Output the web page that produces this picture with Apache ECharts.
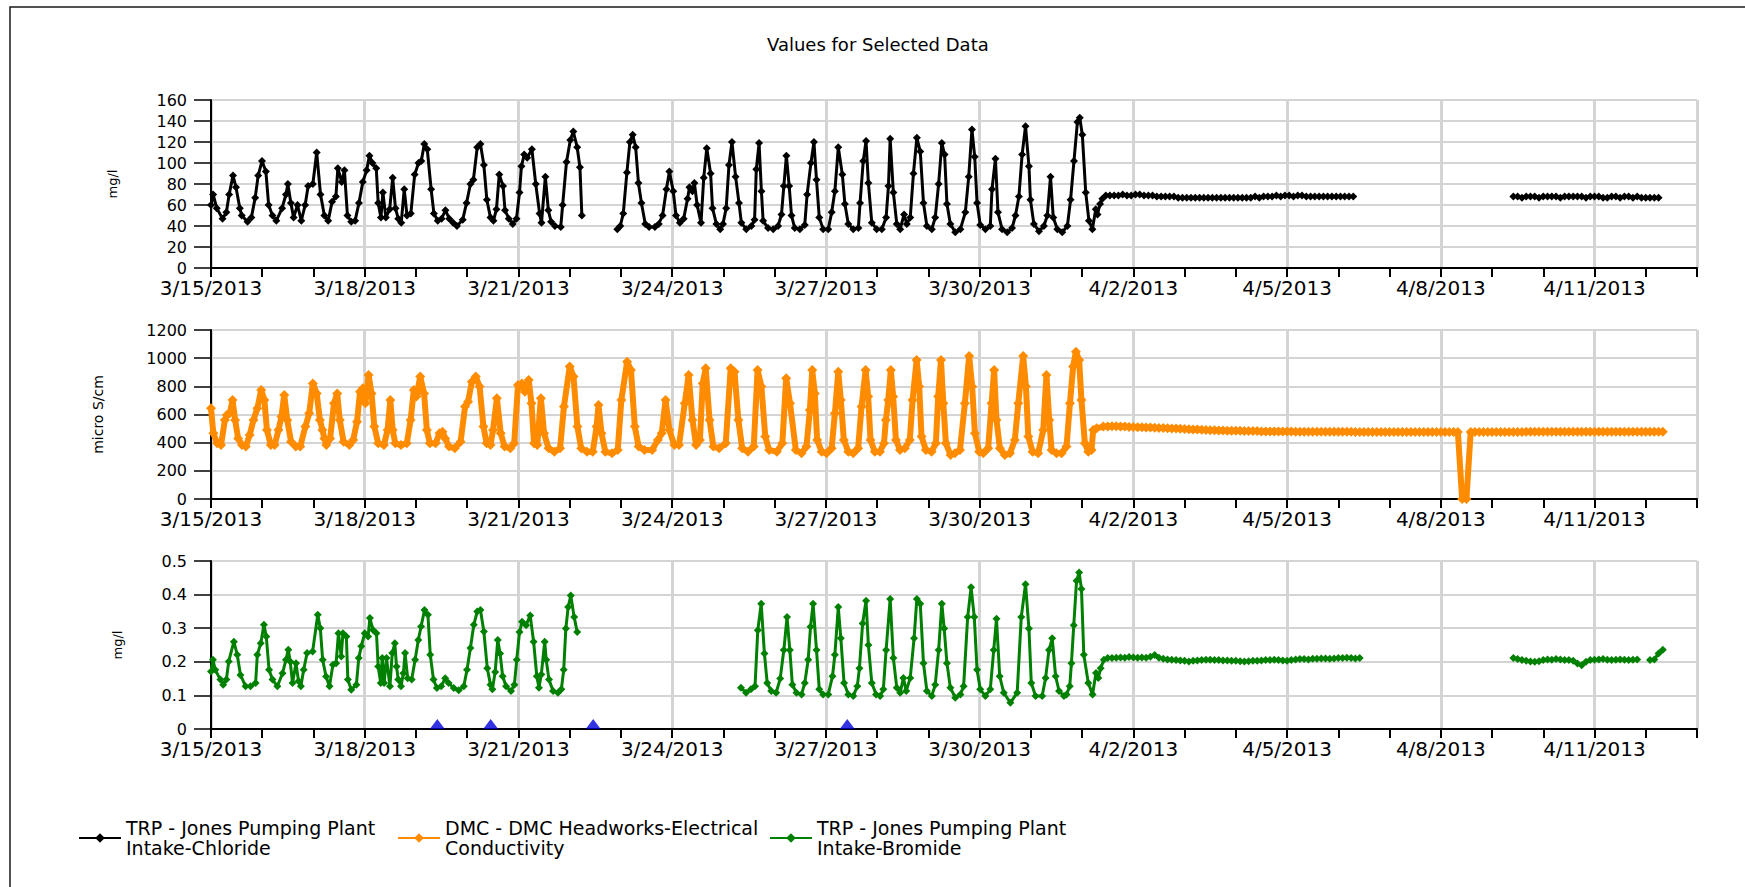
<!DOCTYPE html>
<html>
<head>
<meta charset="utf-8">
<title>Values for Selected Data</title>
<script src="https://cdn.jsdelivr.net/npm/echarts/dist/echarts.min.js"></script>
<style>
  html, body { margin: 0; padding: 0; background: #fff; }
  #chart { width: 1745px; height: 887px; }
</style>
</head>
<body>
<div id="chart"></div>
<script>
// x values are hours after 3/15/2013 00:00, null = no data (gap in the line)
const seriesNames = [
  "TRP - Jones Pumping Plant\nIntake-Chloride",
  "DMC - DMC Headworks-Electrical\nConductivity",
  "TRP - Jones Pumping Plant\nIntake-Bromide"
];

// chloride, mg/l
const chlorideHours = [
  0,1,2.7,5.4,7.2,8.5,10.3,11.7,13.5,14.4,17.1,18.9,20.7,22.1,23.9,25.7,27,28.8,30.6,33.3,
  35.1,36,37.4,38.7,40.5,42.3,44.1,45.5,47.7,49.5,51.3,53.1,54.9,56.7,58.5,59.4,61.2,62.5,63.9,65.7,
  67.5,69.3,71.1,72.9,74.2,75.6,77.4,78.3,79.6,80.5,81.9,83.7,85.1,86.4,87.7,89.1,90.5,91.8,93.6,95.4,
  97.2,98.5,99.9,101.3,103.1,104.4,106.2,108,109.8,111.6,113.4,115.2,117.9,119.7,121.5,122.9,124.7,126.2,127.8,129.2,
  130.9,132.3,133.7,135,136.8,137.7,139.5,141.3,143.1,144.5,145.4,146.7,148.1,150.3,152.1,153.9,154.8,156.6,158,159.3,
  161.1,163.8,164.7,166.5,168.3,169.7,171.5,172.8,173.7,
  182,
  190.3,191.7,193.1,194.8,196.2,197.5,198.9,200.2,201.6,203.4,205.2,207.9,209.7,211.5,213.3,214.7,216.5,217.8,219.6,221.4,
  223.2,224.1,225.5,226.4,227.7,229.5,230.8,232.2,234,234.9,236.7,238.5,
  239.8,241.3,242.6,244,245.7,247.3,248.4,250.7,253.1,254.6,255.4,256.7,257.8,258.6,260.9,263.3,265.6,267.2,268.3,269.5,
  270.8,271.9,273.4,275.8,278.1,279.2,281,282.4,283.6,284.9,286.7,289.1,290.7,292.2,293.8,295.7,296.9,298.5,300.8,303.2,
  304,305.5,306.8,307.9,309.5,311.8,314.2,316.2,317.3,318.1,319.6,321.2,322.8,324.6,325.9,327.5,329,330.6,332.2,333.7,
  335.3,337.6,339.2,340.8,342.3,343.6,344.7,346.3,348.6,351,353.3,354.9,356.4,357.7,358.8,360.3,362.7,365,365.8,367.4,
  368.6,370.5,372.9,375.2,376.8,378.4,379.9,381.5,383.1,383.8,385.4,387.8,390.1,391.7,393.2,394.5,396.4,398.7,401.1,402.6,
  404.2,405.8,406.9,408.1,409.7,411.2,412.8,414.4,415.2,416.4,417.5,419.1
];
const chlorideValues = [
  60,70,57,47,53,70,88,77,57,50,44,48,67,88,102,92,60,50,45,57,
  70,80,62,48,60,45,60,78,80,110,70,50,45,63,68,95,82,93,50,44,
  45,62,82,93,107,100,95,62,48,72,48,56,86,57,47,43,75,50,52,89,
  100,102,118,113,75,52,45,47,55,47,43,40,46,62,80,84,115,118,98,65,
  48,45,56,89,78,55,47,42,47,72,97,108,105,113,80,52,43,87,55,44,
  40,39,60,101,122,130,115,96,50,
  null,
  37,40,52,91,120,127,115,81,62,42,39,39,42,50,75,92,73,50,43,47,
  66,77,73,81,60,43,86,114,90,57,42,37,
  42,57,98,120,87,62,43,37,40,46,94,119,73,45,38,37,40,51,78,107,
  78,50,38,37,41,70,100,120,84,48,37,37,53,73,115,89,61,42,37,38,
  62,102,121,81,43,37,37,48,78,123,72,42,37,51,42,48,90,124,111,62,
  40,37,48,80,119,108,61,42,34,37,53,87,132,106,62,41,37,40,75,104,
  53,37,34,38,50,68,108,135,97,65,42,35,40,50,87,48,37,34,40,65,
  102,139,143,127,72,45,37,56,51,61,66,69
];
// steady readings every 2 hours
const chlorideSteady1 = [
  69,69,69,70,69,69,70,70,69,69,69,68,68,68,68,68,67,67,67,67,
  67,67,67,67,67,67,67,67,67,67,67,67,67,67,68,67,68,68,68,69,
  68,69,69,68,69,69,68,68,68,68,68,68,68,68,68,68,68,68
];
const chlorideSteady2 = [
  68,68,67,68,68,68,67,68,68,68,68,67,68,68,68,68,68,67,68,68,
  68,67,67,68,68,67,68,68,67,68,67,67,67,67,67
];

// electrical conductivity, micro S/cm
const ecHours = [
  0,1.1,2.9,4.7,6.5,7.4,8.8,10.1,11.3,12.7,14.5,16.3,18.1,19.9,21.7,23.5,25,26.2,28,29.8,
  31.6,33,34.3,35.7,37.5,39.7,41.8,44.2,46,47.7,49.5,51,52.2,53.1,54,55.8,57.6,59.1,60.3,62.1,
  64.8,66.6,68.4,69.8,71.1,72.3,73.8,75.2,76.5,78.3,81,82.7,84,85.1,86.3,89,91.7,93.5,95,96.2,
  98,99.8,101.1,102.5,105.2,107,108.4,109.7,111.5,114.2,116.9,119,120.4,122.2,124,125.8,127.6,129.1,130.9,132.1,
  133.9,135.7,137.5,140.2,142,143.8,145.6,147,148.8,150.1,151.3,152.8,154.5,156,158.1,160.8,163.5,165.3,168,169.8,
  171.6,173.4,176.1,178.8,180.6,181.5,182.9,184.7,187.8,190.5,192.2,194.9,196.7,198.5,200.3,203,206.6,209.3,211.1,212.9,
  214.7,217,219.2,221.9,223.7,225.5,227.2,229,230.3,231.7,233.5,235.3,238,241.1,243.4,245.2,247,248.8,251.5,254.2,
  256,257.8,259.6,261.4,265,267.6,269.4,271.2,273.9,
  276.6,278.9,280.5,281.6,282.8,283.9,286,288.3,290.7,292.2,293.8,295,296.4,298.5,300.8,303.1,304.7,306.6,307.8,308.9,
  310.9,313.3,315.2,316.1,317.2,318.4,319.5,320.8,322.7,325,327.3,328.6,330.5,331.7,332.8,334.8,337.5,339.5,340.6,341.9,
  343,344.2,346.4,348.4,350.8,353.1,355.1,356.5,357.8,359.8,361.7,364,365.6,366.8,367.9,369.5,371.8,374.2,376.5,378.1,
  380.4,381.7,382.8,384.8,387.4,389.8,391.3,392.6,393.7,396,398.4,400.7,402.3,403.8,405.1,406.6,407.7,409.3,410.9,412.4,
  413.2,414.8,417.9
];
const ecValues = [
  644,466,395,383,561,596,608,703,561,430,383,372,454,561,644,774,703,490,383,383,
  490,585,738,561,407,372,372,514,608,821,750,561,490,430,383,430,679,750,561,407,
  383,419,549,762,786,679,880,750,514,395,383,490,703,490,395,383,395,561,774,727,
  869,750,490,395,395,466,478,430,372,360,407,656,691,833,869,798,514,395,383,490,
  715,466,372,360,395,810,821,762,845,679,395,383,715,466,360,336,360,656,940,869,
  514,360,336,336,514,667,466,336,324,348,703,975,916,514,372,348,348,419,466,703,
  490,383,383,679,880,561,383,419,821,928,561,372,360,395,928,904,561,360,336,372,
  916,798,443,348,336,395,857,679,348,
  324,372,632,916,750,419,336,324,360,608,904,703,419,336,324,360,656,916,727,419,
  336,336,395,561,703,916,727,419,348,360,419,703,987,798,443,348,336,395,727,987,
  679,395,312,324,348,679,1015,798,466,336,324,360,679,916,561,360,312,324,419,679,
  1015,798,443,336,324,490,880,561,348,324,324,372,679,940,1046,987,703,395,336,348,
  490,502,514
];
// steady readings every 2 hours from 4/1 12:00
const ecSteady = [
  515,516,516,515,514,512,511,510,509,508,507,506,
  505,504,502,501,500,498,497,496,494,493,492,490,
  489,488,487,486,485,485,484,484,483,483,482,482,
  480,480,480,480,479,479,479,479,478,478,478,478,
  478,478,478,478,477,477,477,477,477,477,476,476,
  476,476,476,476,476,476,476,476,476,476,476,476,
  476,476,476,476,476,476,476,476,476,476,476,0,
  0,476,476,476,476,476,476,476,476,476,476,476,
  476,476,477,477,477,477,477,477,477,477,477,477,
  477,477,477,477,477,477,477,477,477,477,477,477,
  477,477,477,477,477,478,478,478,478,478,478
];

// bromide, mg/l
const bromideHours = [
  0,0.9,2,4.4,5.7,7.2,8.3,10.7,12.3,13.8,16.2,18.5,20.9,21.7,23.3,24.8,25.9,27.2,28.8,31.1,
  33.5,35.1,36.2,37.1,38.2,39.8,41,42.1,43.4,45,47.6,50,51.2,52.3,53.9,55.5,57.1,58.6,59.7,61,
  61.8,63.4,64.1,65.7,68.1,69.2,70.4,72,73.6,74.4,75.9,77.5,78.3,79.5,80.2,81.1,82.2,83.8,84.9,86.1,
  86.9,87.7,89,90.1,90.9,92.1,94,95.6,97.1,98.4,100,101.6,102.7,104.2,105.8,107.8,109.7,111.3,113.7,116,
  118.4,119.9,121.5,123.1,124.7,126.2,127.8,129.4,130.9,131.8,133.1,134.3,135.4,136.6,138.2,140.5,142.1,143.2,144.5,145.7,
  147.6,149.5,151.1,152.6,153.6,154.7,156.3,157,158.3,160.2,162.5,164.1,165.2,166.2,167.3,168.5,170.1,171.5,
  200,
  248.2,250.6,252.9,254.8,256.1,257.7,259.2,260.5,262.4,264.7,266.6,268.3,269.8,271.1,272.3,274.2,276.6,278.1,279.7,280.8,
  282,283.6,284.9,286.7,289.1,291.1,292.2,293.8,295,296.5,298.5,300.8,302.7,303.7,305.2,306.8,307.9,309.5,311.5,313.4,
  314.9,316.2,318.1,319.6,321.2,322.8,324.3,325.6,327.5,329.3,330.6,332.2,333.7,335.3,337.6,339.2,340.8,342.3,343.4,344.7,
  346.3,348.6,351,352.5,354.4,356,357.5,358.8,360.3,362.7,365,366.6,367.9,369.4,371.3,374.4,377.6,379.5,381.5,383.1,
  384.2,386.2,389.3,390.9,392.5,394,395.6,397.2,399.5,400.7,402.2,403,404.1,405.4,406.6,407.7,408.8,410.9,412.9,414.5,
  415.6,416.7,418.2,420
];
const bromideValues = [
  0.171,0.206,0.176,0.147,0.132,0.147,0.201,0.26,0.221,0.161,0.127,0.127,0.137,0.221,0.255,0.31,0.275,0.176,0.147,0.127,
  0.166,0.206,0.236,0.201,0.137,0.196,0.142,0.127,0.176,0.226,0.231,0.34,0.3,0.206,0.156,0.127,0.191,0.196,0.285,0.216,
  0.285,0.275,0.147,0.117,0.132,0.211,0.246,0.285,0.275,0.33,0.295,0.285,0.186,0.137,0.211,0.137,0.211,0.127,0.226,0.255,
  0.186,0.147,0.127,0.166,0.226,0.151,0.147,0.206,0.265,0.305,0.354,0.34,0.221,0.147,0.122,0.127,0.151,0.137,0.122,0.115,
  0.127,0.176,0.241,0.31,0.35,0.354,0.29,0.181,0.132,0.118,0.17,0.265,0.225,0.157,0.127,0.113,0.132,0.206,0.289,0.319,
  0.309,0.338,0.26,0.157,0.123,0.162,0.26,0.206,0.147,0.113,0.108,0.118,0.176,0.299,0.363,0.397,0.333,0.289,
  null,
  0.123,0.108,0.118,0.127,0.294,0.373,0.225,0.137,0.113,0.108,0.15,0.235,0.333,0.235,0.132,0.108,0.103,0.137,0.206,0.304,
  0.373,0.235,0.118,0.103,0.103,0.157,0.221,0.363,0.27,0.137,0.103,0.098,0.127,0.181,0.314,0.382,0.25,0.137,0.103,0.098,
  0.118,0.235,0.387,0.211,0.123,0.108,0.152,0.113,0.152,0.27,0.387,0.373,0.196,0.113,0.098,0.132,0.235,0.373,0.299,0.196,
  0.123,0.093,0.103,0.127,0.333,0.422,0.333,0.176,0.118,0.098,0.118,0.235,0.328,0.157,0.108,0.078,0.108,0.333,0.431,0.299,
  0.137,0.098,0.098,0.152,0.235,0.27,0.157,0.113,0.098,0.103,0.127,0.196,0.309,0.441,0.466,0.417,0.221,0.137,0.103,0.167,
  0.152,0.181,0.206,0.211
];
// steady readings every 2 hours
const bromideSteady1 = [
  0.211,0.212,0.213,0.212,0.214,0.213,0.212,0.213,0.212,0.215,0.220,0.212,
  0.209,0.207,0.206,0.205,0.204,0.203,0.201,0.203,0.204,0.205,0.206,0.206,
  0.205,0.205,0.204,0.204,0.203,0.203,0.202,0.201,0.202,0.203,0.203,0.204,
  0.205,0.205,0.206,0.205,0.204,0.203,0.205,0.207,0.208,0.208,0.207,0.209,
  0.209,0.210,0.210,0.209,0.210,0.211,0.211,0.212,0.211,0.210,0.211
];
const bromideSteady2 = [
  0.211,0.208,0.205,0.203,0.201,0.200,0.202,0.205,0.207,0.206,0.208,0.207,0.205,0.205,0.203,
  0.195,0.190,0.200,0.205,0.206,0.207,0.208,0.206,0.205,0.206,0.207,0.206,0.205,0.206,0.207
];
const bromideTailHours = [674, 676, 678, 680];
const bromideTailValues = [0.205, 0.207, 0.225, 0.236];
// flagged samples drawn on the zero line
const bromideFlagHours = [106, 131, 179, 298];
const bromideFlagValues = [0, 0, 0, 0];

const FONT = "DejaVu Sans";

function pairs(hours, values) {
  return hours.map(function (h, i) {
    return [h, values[i] == null ? "-" : values[i]];
  });
}
function steady(start, step, values) {
  return values.map(function (v, i) { return [start + i * step, v]; });
}
const GAP = function (h) { return [[h, "-"]]; };

const chlorideData = pairs(chlorideHours, chlorideValues)
  .concat(steady(421, 2, chlorideSteady1))
  .concat(GAP(570))
  .concat(steady(610, 2, chlorideSteady2));
const ecData = pairs(ecHours, ecValues).concat(steady(420, 2, ecSteady));
const bromideData = pairs(bromideHours, bromideValues)
  .concat(steady(422, 2, bromideSteady1))
  .concat(GAP(570))
  .concat(steady(610, 2, bromideSteady2))
  .concat(GAP(671))
  .concat(pairs(bromideTailHours, bromideTailValues));
const flagData = pairs(bromideFlagHours, bromideFlagValues);

function dayLabel(h) {
  if (h % 72 !== 0) return "";
  const d = new Date(2013, 2, 15 + h / 24);
  return (d.getMonth() + 1) + "/" + d.getDate() + "/" + d.getFullYear();
}

const panels = [
  { top: 100, height: 168, max: 160, interval: 20, name: "mg/l", gap: 92, nameSize: 13 },
  { top: 330, height: 169, max: 1200, interval: 200, name: "micro S/cm", gap: 106, nameSize: 14 },
  { top: 561, height: 168, max: 0.5, interval: 0.1, name: "mg/l", gap: 87, nameSize: 13 }
];

const grid = [], xAxis = [], yAxis = [];
panels.forEach(function (p, i) {
  grid.push({ left: 211, right: 48, top: p.top, height: p.height });
  xAxis.push({
    gridIndex: i, type: "value", min: 0, max: 696, interval: 24,
    axisLine: { lineStyle: { color: "#000", width: 2 } },
    axisTick: { length: 9, lineStyle: { color: "#000", width: 2 } },
    axisLabel: { fontFamily: FONT, fontSize: 20, color: "#000", margin: 10, formatter: dayLabel },
    splitLine: { show: false }
  });
  xAxis.push({
    gridIndex: i, type: "value", min: 0, max: 696, interval: 72, position: "bottom",
    axisLine: { show: false }, axisTick: { show: false }, axisLabel: { show: false },
    splitLine: { show: true, lineStyle: { color: "#d4d4d4", width: 3 } }
  });
  yAxis.push({
    gridIndex: i, type: "value", min: 0, max: p.max, interval: p.interval,
    name: p.name, nameLocation: "middle", nameGap: p.gap,
    nameTextStyle: { fontFamily: FONT, fontSize: p.nameSize, color: "#000" },
    axisLine: { show: true, lineStyle: { color: "#000", width: 2 } },
    axisTick: { show: true, length: 17, lineStyle: { color: "#000", width: 1.5 } },
    axisLabel: {
      fontFamily: FONT, fontSize: 16, color: "#000", margin: 24,
      formatter: function (v) { return String(Math.round(v * 10) / 10); }
    },
    splitLine: { lineStyle: { color: "#d4d4d4", width: 2 } }
  });
});

const legendLefts = [78, 397, 769];

const chart = echarts.init(document.getElementById("chart"), null, { renderer: "svg" });
chart.setOption({
  animation: false,
  backgroundColor: "#fff",
  title: {
    text: "Values for Selected Data", left: 767, top: 35, padding: 0,
    textStyle: { fontFamily: FONT, fontSize: 18, fontWeight: "normal", color: "#000" }
  },
  graphic: [{
    type: "rect", silent: true,
    shape: { x: 10, y: 7, width: 1780, height: 920 },
    style: { fill: "none", stroke: "#1a1a1a", lineWidth: 1.5 }
  }],
  legend: seriesNames.map(function (name, i) {
    return {
      data: [name], left: legendLefts[i], top: 818, padding: 0,
      itemWidth: 42, itemHeight: 12, selectedMode: false,
      textStyle: { fontFamily: FONT, fontSize: 19, lineHeight: 20, color: "#000" }
    };
  }),
  grid: grid,
  xAxis: xAxis,
  yAxis: yAxis,
  series: [
    {
      name: seriesNames[0], type: "line", xAxisIndex: 0, yAxisIndex: 0, data: chlorideData,
      color: "#000000", symbol: "diamond", symbolSize: 8, showAllSymbol: true,
      lineStyle: { width: 3 }, connectNulls: false
    },
    {
      name: seriesNames[1], type: "line", xAxisIndex: 2, yAxisIndex: 1, data: ecData,
      color: "#ff8c00", symbol: "diamond", symbolSize: 10, showAllSymbol: true,
      lineStyle: { width: 6 }, connectNulls: false
    },
    {
      name: seriesNames[2], type: "line", xAxisIndex: 4, yAxisIndex: 2, data: bromideData,
      color: "#008000", symbol: "diamond", symbolSize: 8, showAllSymbol: true,
      lineStyle: { width: 3 }, connectNulls: false
    },
    {
      name: "flag", type: "scatter", xAxisIndex: 4, yAxisIndex: 2, data: flagData,
      color: "#0000dd", symbol: "triangle", symbolSize: [15, 10], symbolOffset: [0, -5], z: 5
    }
  ]
});
</script>
</body>
</html>
